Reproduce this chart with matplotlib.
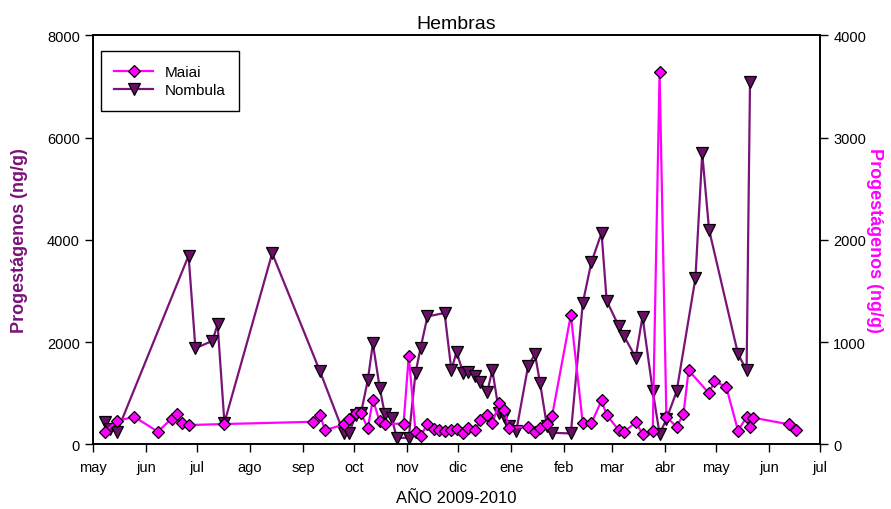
import pandas as pd
import matplotlib.pyplot as plt

plt.rcParams['font.family'] = ['Liberation Sans', 'DejaVu Sans']

# Nombula (left axis, ng/g)
nombula_dates = [
    '2009-05-08', '2009-05-11', '2009-05-15', '2009-06-26', '2009-06-30',
    '2009-07-10', '2009-07-13', '2009-07-17', '2009-08-14', '2009-09-11',
    '2009-09-25', '2009-09-28', '2009-10-02', '2009-10-05', '2009-10-09',
    '2009-10-12', '2009-10-16', '2009-10-19', '2009-10-23', '2009-10-26',
    '2009-11-02', '2009-11-06', '2009-11-09', '2009-11-13', '2009-11-23',
    '2009-11-27', '2009-11-30', '2009-12-04', '2009-12-07', '2009-12-11',
    '2009-12-14', '2009-12-18', '2009-12-21', '2009-12-25', '2009-12-28',
    '2009-12-31', '2010-01-04', '2010-01-11', '2010-01-15', '2010-01-18',
    '2010-01-22', '2010-01-25', '2010-02-05', '2010-02-12', '2010-02-17',
    '2010-02-23', '2010-02-26', '2010-03-05', '2010-03-08', '2010-03-15',
    '2010-03-19', '2010-03-25', '2010-03-29', '2010-04-02', '2010-04-08',
    '2010-04-19', '2010-04-23', '2010-04-27', '2010-05-14', '2010-05-19',
    '2010-05-21',
]
nombula_vals = [
    437, 307, 241, 3692, 1882,
    2026, 2353, 425, 3739, 1430,
    215, 215, 580, 610, 1255,
    1975, 1110, 590, 520, 130,
    130, 1405, 1895, 2505, 2570,
    1455, 1810, 1390, 1420, 1340,
    1220, 1025, 1455, 620, 560,
    360, 260, 1540, 1765, 1195,
    360, 230, 215, 2765, 3560,
    4135, 2810, 2320, 2130, 1700,
    2500, 1045, 210, 490, 1040,
    3250, 5690, 4200, 1765, 1455,
    7090,
]

# Maiai (right axis, ng/g)
maiai_dates = [
    '2009-05-08', '2009-05-15', '2009-05-25', '2009-06-08', '2009-06-16',
    '2009-06-19', '2009-06-22', '2009-06-26', '2009-07-17', '2009-09-07',
    '2009-09-11', '2009-09-14', '2009-09-25', '2009-09-28', '2009-10-02',
    '2009-10-05', '2009-10-09', '2009-10-12', '2009-10-16', '2009-10-19',
    '2009-10-30', '2009-11-02', '2009-11-06', '2009-11-09', '2009-11-13',
    '2009-11-17', '2009-11-20', '2009-11-23', '2009-11-27', '2009-11-30',
    '2009-12-04', '2009-12-07', '2009-12-11', '2009-12-14', '2009-12-18',
    '2009-12-21', '2009-12-25', '2009-12-28', '2009-12-31', '2010-01-11',
    '2010-01-15', '2010-01-18', '2010-01-22', '2010-01-25', '2010-02-05',
    '2010-02-12', '2010-02-17', '2010-02-23', '2010-02-26', '2010-03-05',
    '2010-03-08', '2010-03-15', '2010-03-19', '2010-03-25', '2010-03-29',
    '2010-04-02', '2010-04-08', '2010-04-12', '2010-04-15', '2010-04-27',
    '2010-04-30', '2010-05-07', '2010-05-14', '2010-05-19', '2010-05-21',
    '2010-05-23', '2010-06-13', '2010-06-17',
]
maiai_vals = [
    125, 228, 272, 125, 252,
    300, 206, 190, 200, 222,
    288, 140, 196, 245, 305,
    310, 157, 438, 225, 200,
    205, 866, 120, 86, 200,
    147, 137, 130, 137, 153,
    115, 157, 144, 235, 285,
    206, 408, 333, 163, 173,
    120, 165, 196, 278, 1265,
    206, 206, 430, 288, 142,
    122, 215, 106, 132, 3644,
    270, 172, 298, 725, 500,
    618, 566, 134, 270, 172,
    262, 196, 144,
]

month_labels = ['may', 'jun', 'jul', 'ago', 'sep', 'oct', 'nov', 'dic',
                'ene', 'feb', 'mar', 'abr', 'may', 'jun', 'jul']

purple = '#7a1377'
magenta = '#ff00ff'

fig = plt.figure(figsize=(8.91, 5.10), dpi=100)
ax = fig.add_axes([0.1044, 0.1265, 0.8159, 0.8023])
ax2 = ax.twinx()

ln1, = ax.plot(pd.to_datetime(nombula_dates), nombula_vals, color=purple, lw=1.6,
               marker='v', markersize=8.5, markerfacecolor='#6a0f68',
               markeredgecolor='black', markeredgewidth=0.9, label='Nombula')
ln2, = ax2.plot(pd.to_datetime(maiai_dates), maiai_vals, color=magenta, lw=1.6,
                marker='D', markersize=6.5, markerfacecolor=magenta,
                markeredgecolor='black', markeredgewidth=0.9, label='Maiai')

ticks = pd.date_range('2009-05-01', '2010-07-01', freq='MS')
ax.set_xticks(ticks)
ax.set_xticklabels(month_labels)
ax.set_xlim(pd.Timestamp('2009-05-01'), pd.Timestamp('2010-07-01'))
ax.set_ylim(0, 8000)
ax2.set_ylim(0, 4000)
ax.set_yticks(range(0, 8001, 2000))
ax2.set_yticks(range(0, 4001, 1000))

for a in (ax, ax2):
    a.tick_params(direction='out', length=6, width=1, labelsize=10.5)
    for s in a.spines.values():
        s.set_linewidth(1.2)
ax.tick_params(axis='x', pad=5)

ax.set_title('Hembras', fontsize=14, pad=5)
ax.set_xlabel('AÑO 2009-2010', fontsize=12, labelpad=12)
ax.set_ylabel('Progestágenos (ng/g)', color=purple, fontsize=13,
              fontweight='bold', labelpad=14)
ax2.set_ylabel('Progestágenos (ng/g)', color=magenta, fontsize=13,
               fontweight='bold', rotation=270, labelpad=12)

leg = ax2.legend(handles=[ln2, ln1], loc='upper left', fontsize=11,
                 fancybox=False, edgecolor='black', framealpha=1,
                 bbox_to_anchor=(0.0, 0.98), handlelength=2.5,
                 borderpad=0.9, labelspacing=0.3)
leg.get_frame().set_linewidth(1.0)

fig.savefig('out.png', dpi=100)
